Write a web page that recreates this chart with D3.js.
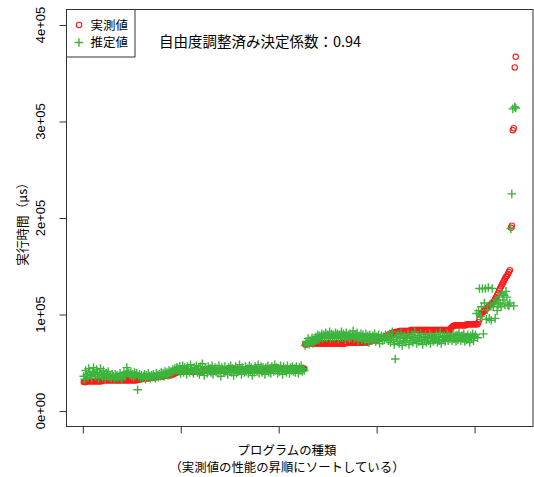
<!DOCTYPE html>
<html>
<head>
<meta charset="utf-8">
<script src="https://cdn.jsdelivr.net/npm/d3@7"></script>
<style>
  body { margin: 0; background: #fff; }
  text { font-family: "Liberation Sans", Arial, sans-serif; fill: #000; }
  .jp { font-family: "Noto Sans CJK JP", "Noto Sans", sans-serif; }
</style>
</head>
<body>
<div id="chart"></div>
<script>
// values in units of 1000 µs, programs sorted by measured time
const measured = [
  30,30,30,31,31,31,31,31,31,31,31,31,31,31,31,31,31,31,31,32,32,32,32,32,32,
  32,32,32,32,32,32,32,32,32,32,32,32,32,32,32,32,32,32,32,32,32,32,32,32,32,32,32,32,32,32,33,33,33,
  33,33,34,34,34,34,34,34,34,34,35,35,35,35,35,35,35,
  36,36,36,36,36,36,36,36,37,37,37,37,37,37,37,
  38,38,39,39,40,40,
  41,41,41,41,41,41,41,41,41,41,41,41,41,41,41,41,41,41,41,41,41,41,41,41,41,
  42,42,42,42,42,42,42,42,42,42,42,42,42,42,42,42,42,42,42,42,42,42,42,42,
  43,43,43,43,43,43,43,43,43,43,43,43,43,43,43,43,43,43,43,43,43,43,43,43,43,43,43,43,43,43,43,43,43,43,43,43,43,43,43,43,
  44,44,44,44,44,44,44,44,44,44,44,44,44,44,44,44,44,44,44,44,44,44,44,44,44,44,44,44,44,44,44,44,44,44,44,44,44,44,44,44,44,
  69,69,70,70,70,70,70,70,70,70,70,70,70,70,70,70,70,70,70,70,70,70,70,70,70,70,70,70,70,70,70,70,70,70,70,70,70,70,70,70,70,70,
  71,71,71,71,71,71,71,71,71,71,71,71,71,71,71,71,71,71,71,71,71,71,
  72,72,72,73,73,73,73,74,74,74,74,75,75,75,76,76,76,77,77,78,
  78,79,79,80,80,81,81,81,82,82,82,82,83,83,83,83,83,83,83,83,83,83,83,83,
  84,84,84,84,84,84,84,84,84,84,84,84,84,84,84,84,84,84,84,84,84,84,84,84,84,84,84,84,84,84,84,84,84,84,84,84,84,84,84,84,84,
  86,87,88,88,89,89,89,89,89,89,89,89,89,89,89,89,90,90,90,90,90,90,90,90,90,90,90,90,
  92,95,100,101,102,103,104,105,106,107,108,109,110,111,112,113,114,116,118,120,
  122,125,127,129,131,133,135,137,139,140,142,144,146,190,192,291,293,356,367
];

const estimated = [
  36,33,42,38,35,44,40,37,34,41, 45,39,36,43,38,34,40,44,37,35,
  42,38,33,39,36,41,35,37,34,38, 36,33,38,35,37,34,36,39,35,33,
  37,40,36,38,45,41,39,37,40,36, 38,35,40,37,39,22,36,38,35,37,
  34,36,38,33,37,35,39,36,34,37, 35,38,36,34,39,37,35,38,36,40,
  37,39,36,41,38,40,37,42,39,41, 40,43,41,44,42,45,
  44,41,46,39,43,47,40,45,42,38, 46,43,40,48,44,41,39,45,42,47,
  40,44,38,46,42,49,41,37,45,43, 39,46,42,44,40,47,38,43,45,41,
  44,39,47,42,36,45,43,40,46,41, 43,38,45,41,47,40,44,37,42,46,
  39,44,41,48,43,38,45,42,40,46, 41,44,39,47,42,45,37,43,40,46,
  44,41,48,39,43,46,40,45,42,38, 45,42,47,40,44,39,46,43,41,48,
  42,45,39,44,41,47,43,38,46,42, 44,40,47,43,39,45,42,46,41,44,
  40,46,43,39,45,42,47,41,44,42,
  68,72,70,75,69,73,71,76,70,74, 72,77,75,79,74,78,76,80,75,79,
  77,81,76,79,78,82,75,80,77,79, 76,81,78,80,75,79,77,82,76,80,
  78,74,81,77,79,75,80,76,78,83, 75,79,77,81,73,78,76,80,74,79,
  77,72,80,75,78,71,79,76,73,78, 74,80,72,77,75,79,70,76,78,73,
  77,74,79,76,
  78,73,80,71,76,82,74,69,54,77, 72,79,70,75,81,68,76,73,78,71,
  75,80,69,77,73,79,71,76,82,74, 70,78,72,76,80,73,69,77,74,79,
  71,76,73,80,70,78,75,72,77,74, 79,71,76,73,81,70,77,74,78,72,
  76,80,73,78,75,
  77,73,80,75,78,72,79,74,81,76, 73,78,75,80,72,77,74,79,76,71,
  78,75,80,73,77,79,101,76,
  104,127,98,108,127,80,112,127,95,105, 128,96,110,94,127,108,112,96,115,104,
  110,118,112,108,122,115,120,110,124,118, 110,109,112,189,225,313,109,315,314
];

const yTicks = [0, 100000, 200000, 300000, 400000];
const yTickLabels = ["0e+00", "1e+05", "2e+05", "3e+05", "4e+05"];
const xTicks = [0, 100, 200, 300, 400];
const legendLabels = ["実測値", "推定値"];
const noteText = "自由度調整済み決定係数：0.94";
const xTitle = ["プログラムの種類", "（実測値の性能の昇順にソートしている）"];
const yTitle = "実行時間（μs）";

class ScatterVis {

    constructor(parentElement) {
        this.parentElement = parentElement;
        this.initVis();
    }

    initVis() {
        let vis = this;

        vis.box = {left: 66.5, right: 533, top: 9.5, bottom: 426.5};

        vis.svg = d3.select("#" + vis.parentElement).append("svg")
            .attr("width", 534)
            .attr("height", 477);

        vis.n = Math.min(measured.length, estimated.length);

        // R style 4% padding on x; y limits fixed at 0..4e5
        let pad = 0.04 * (vis.n - 1);
        vis.x = d3.scaleLinear()
            .domain([1 - pad, vis.n + pad])
            .range([vis.box.left, vis.box.right]);
        vis.y = d3.scaleLinear()
            .domain([-16000, 416000])
            .range([vis.box.bottom, vis.box.top]);

        vis.wrangleData();
    }

    wrangleData() {
        let vis = this;
        vis.displayData = [];
        for (let i = 0; i < vis.n; i++) {
            vis.displayData.push({idx: i + 1, obs: measured[i] * 1000, est: estimated[i] * 1000});
        }
        vis.updateVis();
    }

    updateVis() {
        let vis = this;

        // axes (R draws only ticks, line overlaps the box)
        let yAxis = d3.axisLeft(vis.y).tickValues(yTicks).tickSize(7).tickFormat("");
        let yg = vis.svg.append("g")
            .attr("transform", `translate(${vis.box.left},0)`)
            .call(yAxis);
        yg.select(".domain").remove();
        yg.selectAll("line").attr("stroke", "#333");

        vis.svg.selectAll(".ytick-label")
            .data(yTicks)
            .enter().append("text")
            .attr("class", "ytick-label")
            .attr("text-anchor", "middle")
            .attr("font-size", "13px")
            .attr("transform", (d) => `translate(45,${vis.y(d)}) rotate(-90)`)
            .text((d, i) => yTickLabels[i]);

        let xAxis = d3.axisBottom(vis.x).tickValues(xTicks).tickSize(7).tickFormat("");
        let xg = vis.svg.append("g")
            .attr("transform", `translate(0,${vis.box.bottom})`)
            .call(xAxis);
        xg.select(".domain").remove();
        xg.selectAll("line").attr("stroke", "#333");

        // points
        vis.svg.append("g").selectAll("circle")
            .data(vis.displayData)
            .enter().append("circle")
            .attr("cx", d => vis.x(d.idx))
            .attr("cy", d => vis.y(d.obs))
            .attr("r", 2.7)
            .attr("fill", "none")
            .attr("stroke", "#ff1a1a")
            .attr("stroke-width", 1.1);

        let s = 4.3;
        vis.svg.append("g").selectAll("path")
            .data(vis.displayData)
            .enter().append("path")
            .attr("d", d => {
                let cx = vis.x(d.idx), cy = vis.y(d.est);
                return `M${cx - s},${cy}H${cx + s}M${cx},${cy - s}V${cy + s}`;
            })
            .attr("fill", "none")
            .attr("stroke", "#3cb43c")
            .attr("stroke-width", 1.4);

        // frame
        vis.svg.append("rect")
            .attr("x", vis.box.left)
            .attr("y", vis.box.top)
            .attr("width", vis.box.right - vis.box.left)
            .attr("height", vis.box.bottom - vis.box.top)
            .attr("fill", "none")
            .attr("stroke", "#333");

        // legend
        let lg = vis.svg.append("g");
        lg.append("rect")
            .attr("x", vis.box.left).attr("y", vis.box.top)
            .attr("width", 68.5).attr("height", 47.5)
            .attr("fill", "#fff").attr("stroke", "#333");
        lg.append("circle")
            .attr("cx", 79).attr("cy", 25).attr("r", 2.7)
            .attr("fill", "none").attr("stroke", "#ff1a1a").attr("stroke-width", 1.1);
        lg.append("path")
            .attr("d", `M${79 - s},42.5H${79 + s}M79,${42.5 - s}V${42.5 + s}`)
            .attr("stroke", "#3cb43c").attr("stroke-width", 1.4);
        lg.selectAll(".legend-label")
            .data(legendLabels)
            .enter().append("text")
            .attr("class", "legend-label jp")
            .attr("x", 90.5)
            .attr("y", (d, i) => 29.5 + i * 17.5)
            .attr("font-size", "12.5px")
            .text(d => d);

        // annotation
        vis.svg.append("text")
            .attr("class", "jp")
            .attr("x", 159)
            .attr("y", 47)
            .attr("font-size", "14.5px")
            .text(noteText);

        // axis titles
        vis.svg.selectAll(".x-title")
            .data(xTitle)
            .enter().append("text")
            .attr("class", "x-title jp")
            .attr("x", 287)
            .attr("y", (d, i) => 454.5 + i * 17)
            .attr("text-anchor", "middle")
            .attr("font-size", "12.4px")
            .text(d => d);

        vis.svg.append("text")
            .attr("class", "jp")
            .attr("text-anchor", "middle")
            .attr("font-size", "12.6px")
            .attr("transform", "translate(27,221) rotate(-90)")
            .text(yTitle);
    }
}

new ScatterVis("chart");
</script>
</body>
</html>
